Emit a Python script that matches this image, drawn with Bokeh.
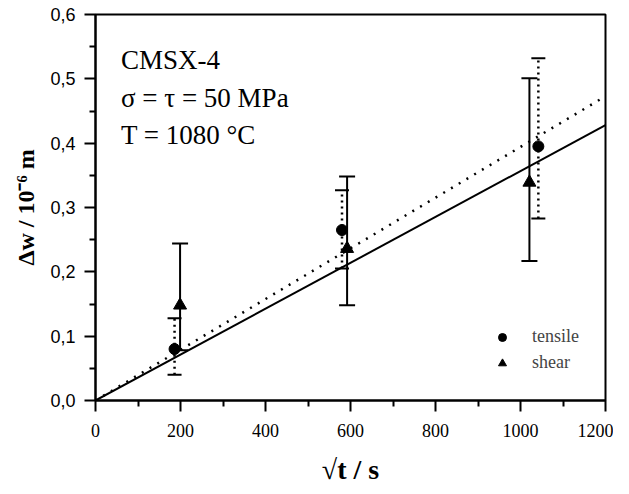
from bokeh.plotting import figure
from bokeh.models import (Range1d, FixedTicker, CustomJSTickFormatter, Whisker, TeeHead,
                          ColumnDataSource, Label, Legend, LegendItem)
from bokeh.embed import file_html
from bokeh.resources import INLINE

# ---- data ----
tensile_x = [186, 580, 1042]
tensile_y = [0.080, 0.265, 0.395]
tensile_lo = [0.040, 0.205, 0.283]
tensile_hi = [0.128, 0.327, 0.532]

shear_x = [199, 592, 1021]
shear_y = [0.148, 0.236, 0.339]
shear_lo = [0.078, 0.148, 0.217]
shear_hi = [0.244, 0.348, 0.501]

fit_x = [0, 1200]
fit_tensile = [0, 0.473]   # dotted line
fit_shear = [0, 0.428]     # solid line

x_ticks = [0, 200, 400, 600, 800, 1000, 1200]
x_minor = [100, 300, 500, 700, 900, 1100]
y_ticks = [0.0, 0.1, 0.2, 0.3, 0.4, 0.5, 0.6]
y_minor = [0.05, 0.15, 0.25, 0.35, 0.45, 0.55]

info_lines = ["CMSX-4", "σ = τ = 50 MPa", "T = 1080 °C"]
info_y = [0.529, 0.470, 0.412]

SERIF = "Liberation Serif"
SANS = "Liberation Sans"

p = figure(frame_width=510, frame_height=386,
           x_range=Range1d(0, 1200), y_range=Range1d(0, 0.6),
           output_backend="svg", toolbar_location=None,
           min_border_left=95, min_border_right=8, min_border_top=14, min_border_bottom=78)

p.grid.visible = False
p.background_fill_color = "white"
p.outline_line_color = "black"
p.outline_line_width = 2

p.xaxis.ticker = FixedTicker(ticks=x_ticks, minor_ticks=x_minor)
p.yaxis.ticker = FixedTicker(ticks=y_ticks, minor_ticks=y_minor)
p.yaxis.formatter = CustomJSTickFormatter(code="return tick.toFixed(1).replace('.', ',');")

for ax in (p.xaxis, p.yaxis):
    ax.axis_line_width = 2
    ax.major_tick_line_width = 2
    ax.minor_tick_line_width = 2
    ax.major_tick_in = 0
    ax.major_tick_out = 11
    ax.minor_tick_in = 0
    ax.minor_tick_out = 6
    ax.major_label_text_color = "black"
    ax.axis_label_text_color = "black"

p.xaxis.major_label_standoff = 12
p.yaxis.major_label_standoff = 9

p.xaxis.major_label_text_font = SERIF
p.xaxis.major_label_text_font_size = "18px"
p.yaxis.major_label_text_font = SANS
p.yaxis.major_label_text_font_size = "18px"

p.xaxis.axis_label = "√t / s"
p.xaxis.axis_label_text_font = SERIF
p.xaxis.axis_label_text_font_style = "bold"
p.xaxis.axis_label_text_font_size = "28px"
p.xaxis.axis_label_standoff = 14

p.yaxis.axis_label = "Δw / 10⁻⁶ m"
p.yaxis.axis_label_text_font = SERIF
p.yaxis.axis_label_text_font_style = "bold"
p.yaxis.axis_label_text_font_size = "24px"
p.yaxis.axis_label_standoff = 8

# fit lines
p.line(fit_x, fit_shear, line_color="black", line_width=2)
p.line(fit_x, fit_tensile, line_color="black", line_width=2.5, line_dash="2 7")

# error bars
src_t = ColumnDataSource(dict(x=tensile_x, y=tensile_y, lo=tensile_lo, hi=tensile_hi))
src_s = ColumnDataSource(dict(x=shear_x, y=shear_y, lo=shear_lo, hi=shear_hi))

p.add_layout(Whisker(source=src_t, base="x", lower="lo", upper="hi",
                     line_color="black", line_width=2.5, line_dash="2 4",
                     upper_head=TeeHead(size=14, line_width=2, line_color="black"),
                     lower_head=TeeHead(size=14, line_width=2, line_color="black")))
p.add_layout(Whisker(source=src_s, base="x", lower="lo", upper="hi",
                     line_color="black", line_width=2,
                     upper_head=TeeHead(size=16, line_width=2, line_color="black"),
                     lower_head=TeeHead(size=16, line_width=2, line_color="black")))

r_t = p.scatter("x", "y", source=src_t, marker="circle", size=11,
                fill_color="black", line_color="black")
r_s = p.scatter("x", "y", source=src_s, marker="triangle", size=13,
                fill_color="black", line_color="black")

for txt, yy in zip(info_lines, info_y):
    p.add_layout(Label(x=60, y=yy, text=txt, text_font=SERIF, text_font_size="27px",
                       text_color="black", text_baseline="alphabetic"))

legend = Legend(items=[LegendItem(label="tensile", renderers=[r_t]),
                       LegendItem(label="shear", renderers=[r_s])],
                location=(397, 27), border_line_color=None, background_fill_alpha=0,
                padding=0, margin=0, spacing=5, glyph_width=20, glyph_height=20,
                label_standoff=20, label_text_font=SERIF, label_text_font_size="18px")
p.add_layout(legend)

open("out.html", "w").write(file_html(p, INLINE))
